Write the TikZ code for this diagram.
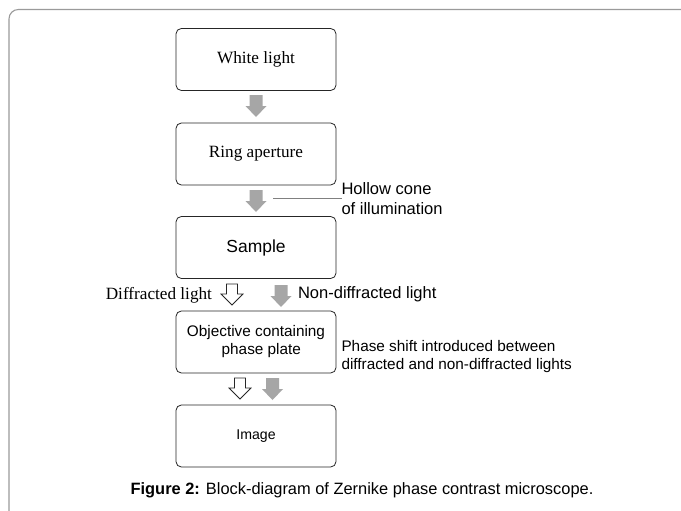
\documentclass[tikz,border=0pt]{standalone}
\usepackage{fontspec}
\setmainfont{Liberation Serif}
\setsansfont{Liberation Sans}
\definecolor{arrowgray}{HTML}{A6A6A6}
\definecolor{framegray}{HTML}{9A9A9A}
\definecolor{linegray}{HTML}{808080}
\tikzset{
  box/.style={draw=black!85, line width=0.6pt, rounded corners=4pt,
    minimum width=120pt, minimum height=46.5pt, inner sep=0pt, align=center},
  serifbig/.style={font=\fontsize{12.9}{15}\selectfont\rmfamily},
  sansbig/.style={font=\fontsize{13.1}{15}\selectfont\sffamily},
  sanslabel/.style={font=\fontsize{12.4}{15}\selectfont\sffamily},
  sansmid/.style={font=\fontsize{11.5}{13.5}\selectfont\sffamily},
  sanssmall/.style={font=\fontsize{10.6}{13}\selectfont\sffamily},
  plain/.style={inner sep=0pt, outer sep=0pt},
  garr/.pic={\fill[arrowgray] (-6.5,0) -- (6.5,0) -- (6.5,11) -- (10.5,11) -- (0,22) -- (-10.5,11) -- (-6.5,11) -- cycle;},
  oarr/.pic={\filldraw[fill=white, draw=black!85, line width=0.6pt, line join=miter] (-5.5,0) -- (5.5,0) -- (5.5,10) -- (11,10) -- (0,21) -- (-11,10) -- (-5.5,10) -- cycle;}
}
\begin{document}
\begin{tikzpicture}[x=0.75pt,y=-0.75pt]
\useasboundingbox (0,0) rectangle (681,510);
\fill[white] (0,0) rectangle (681,510);
% frame
\draw[framegray, line width=0.8pt, rounded corners=7pt] (9,530) -- (9,9.5) -- (700,9.5);

% boxes
\node[box, serifbig] (white) at (256,59.5) {White light};
\node[box, serifbig] (ring) at (256,154) {Ring aperture};
\node[box, sansbig] (sample) at (256,247.5) {Sample};
\node[box, sansmid] (obj) at (256,342) {Objective containing\\\hspace*{8pt}phase plate};
\node[box, sanssmall] (img) at (256,436) {Image};

% arrows
\pic at (256,95) {garr};
\pic at (256,190) {garr};
\pic at (232,284) {oarr};
\pic at (281,285) {garr};
\pic at (240,378) {oarr};
\pic at (272.5,378) {garr};

% labels
\node[plain, sanslabel, align=left, anchor=west] (hollow) at (341.5,199) {Hollow cone\\of illumination};
\coordinate (hstart) at (273,198);
\draw[linegray, line width=0.6pt] (hstart) -- (hollow.west |- hstart);

\node[plain, serifbig, anchor=base east] (diff) at (212,299.5) {Diffracted light};
\node[plain, sanslabel, anchor=base west] (nondiff) at (298,298) {Non-diffracted light};

\node[plain, sansmid, align=left, anchor=west] (shift) at (341.5,357) {Phase shift introduced between\\diffracted and non-diffracted lights};

% caption
\node[plain, font=\fontsize{12.3}{15}\selectfont\sffamily] (cap) at (362,490) {\textbf{Figure 2:} Block-diagram of Zernike phase contrast microscope.};
\end{tikzpicture}
\end{document}
